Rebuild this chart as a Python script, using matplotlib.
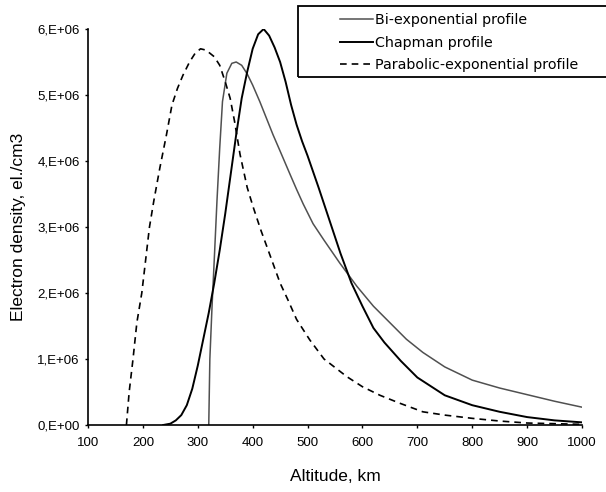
import numpy as np
import matplotlib.pyplot as plt
from matplotlib.patches import Rectangle

# altitude (km) / electron density (el/cm3)
bi_alt = [320, 321, 322, 326, 330, 335, 340, 345, 353, 362, 370, 380, 390, 400, 413, 425,
          437, 450, 468, 480, 492, 510, 530, 559, 590, 620, 644, 680, 710, 750, 800, 850,
          900, 950, 1000]
bi_dens = [0.0, 0.5e6, 1.0e6, 1.8e6, 2.5e6, 3.4e6, 4.2e6, 4.9e6, 5.33e6, 5.48e6, 5.5e6,
           5.45e6, 5.32e6, 5.15e6, 4.9e6, 4.65e6, 4.4e6, 4.15e6, 3.8e6, 3.57e6, 3.35e6,
           3.05e6, 2.8e6, 2.45e6, 2.1e6, 1.8e6, 1.6e6, 1.3e6, 1.1e6, 0.88e6, 0.68e6,
           0.56e6, 0.46e6, 0.36e6, 0.27e6]

ch_alt = [237, 250, 260, 270, 280, 290, 300, 310, 320, 330, 340, 350, 360, 370, 380, 390,
          400, 410, 420, 430, 440, 450, 460, 470, 480, 490, 500, 520, 540, 560, 580, 600,
          620, 640, 670, 700, 750, 800, 850, 900, 950, 1000]
ch_dens = [0.0, 0.02e6, 0.07e6, 0.15e6, 0.3e6, 0.55e6, 0.9e6, 1.3e6, 1.7e6, 2.15e6,
           2.65e6, 3.2e6, 3.8e6, 4.4e6, 4.95e6, 5.35e6, 5.7e6, 5.92e6, 6.0e6, 5.9e6,
           5.72e6, 5.5e6, 5.2e6, 4.85e6, 4.55e6, 4.3e6, 4.08e6, 3.6e6, 3.1e6, 2.6e6,
           2.15e6, 1.8e6, 1.47e6, 1.25e6, 0.97e6, 0.72e6, 0.45e6, 0.3e6, 0.2e6, 0.12e6,
           0.07e6, 0.04e6]

pe_alt = [170, 175, 182, 189, 198, 205, 212, 220, 231, 243, 253, 263, 273, 285, 295, 305,
          315, 330, 340, 350, 359, 367, 377, 390, 401, 415, 426, 450, 464, 480, 504, 530,
          572, 600, 632, 668, 710, 750, 801, 850, 900, 950, 1000]
pe_dens = [0.0, 0.5e6, 1.0e6, 1.55e6, 2.0e6, 2.5e6, 3.0e6, 3.4e6, 3.9e6, 4.4e6, 4.85e6,
           5.1e6, 5.3e6, 5.5e6, 5.63e6, 5.7e6, 5.68e6, 5.58e6, 5.45e6, 5.2e6, 4.95e6,
           4.6e6, 4.1e6, 3.6e6, 3.3e6, 2.95e6, 2.7e6, 2.15e6, 1.9e6, 1.6e6, 1.29e6,
           1.0e6, 0.73e6, 0.58e6, 0.45e6, 0.33e6, 0.2e6, 0.15e6, 0.1e6, 0.06e6, 0.03e6,
           0.02e6, 0.01e6]

labels = ['Bi-exponential profile', 'Chapman profile', 'Parabolic-exponential profile']
x_ticks = list(range(100, 1001, 100))
y_ticks = [0, 1e6, 2e6, 3e6, 4e6, 5e6, 6e6]
y_tick_labels = ['0,E+00', '1,E+06', '2,E+06', '3,E+06', '4,E+06', '5,E+06', '6,E+06']

plt.rcParams['font.family'] = ['Liberation Sans', 'DejaVu Sans']

fig = plt.figure(figsize=(6.06, 4.92), dpi=100)
ax = fig.add_axes([88/606, 1 - 425/492, (582 - 88)/606, (425 - 29)/492])

ax.plot(bi_alt, bi_dens, color='#505050', lw=1.1, label=labels[0])
ax.plot(ch_alt, ch_dens, color='black', lw=1.4, label=labels[1])
ax.plot(pe_alt, pe_dens, color='black', lw=1.2, dashes=(4, 3), label=labels[2])

ax.set_xlim(100, 1000)
ax.set_ylim(0, 6e6)
ax.set_xticks(x_ticks)
ax.set_yticks(y_ticks)
ax.set_yticklabels(y_tick_labels)
ax.tick_params(direction='out', length=2.5, width=1, labelsize=9.5)
ax.tick_params(axis='x', pad=6)
ax.tick_params(axis='y', pad=3.5)
for s in ['top', 'right']:
    ax.spines[s].set_visible(False)
for s in ['left', 'bottom']:
    ax.spines[s].set_linewidth(1.2)

ax.set_xlabel('Altitude, km', fontsize=12.5, va='top')
ax.xaxis.set_label_coords(0.5, -(469 - 425) / 396)
ax.set_ylabel('Electron density, el./cm3', fontsize=12.5)
ax.yaxis.set_label_coords(-(88 - 26) / 494, 0.5)

# legend frame runs past the right edge of the picture
fig.patches.append(Rectangle((298/606, 1 - 77/492), 320/606, 71/492,
                             transform=fig.transFigure, fill=False,
                             edgecolor='black', lw=1.3))
leg = fig.legend(loc='upper left', bbox_to_anchor=(340/606, 1 - 13/492),
                 prop={'family': 'DejaVu Sans', 'size': 10.3}, frameon=False,
                 borderaxespad=0, borderpad=0, handlelength=2.3,
                 handletextpad=0.15, labelspacing=0.6)

plt.savefig('out.png', dpi=100)
